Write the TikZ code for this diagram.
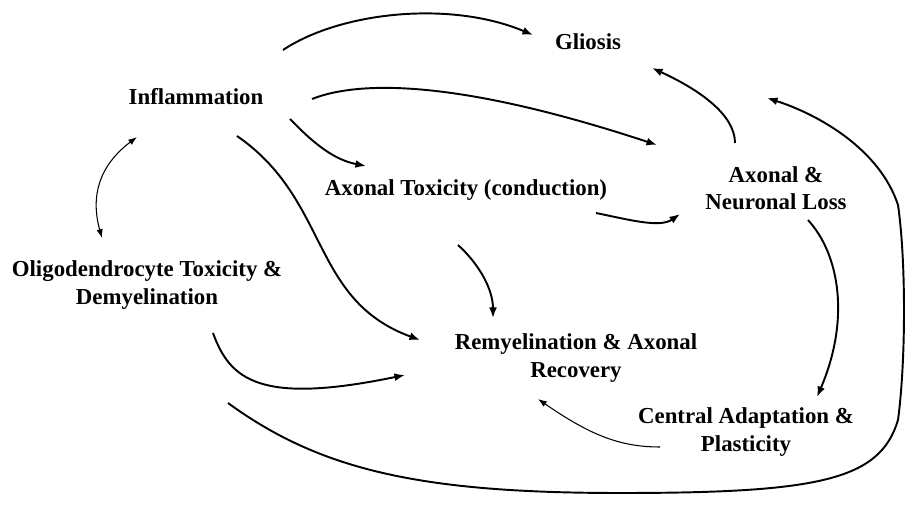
\documentclass[tikz,border=0pt]{standalone}
\usepackage{fontspec}
\setmainfont{Liberation Serif}
\usetikzlibrary{arrows.meta}

\begin{document}
\begin{tikzpicture}[
    x=0.02cm, y=-0.02cm, % pixel grid, y grows downwards
    >={Latex[length=6pt,width=4.5pt]},
    line/.style = {->, draw=black, line width=1.1pt},
    thinline/.style = {draw=black, line width=0.6pt, >={Latex[length=5pt,width=3.6pt]}}
    ]
    \tikzstyle{box_style} = [font=\fontsize{13}{15.5}\selectfont\bfseries, align=center, inner sep=0pt]
    \useasboundingbox (0,0) rectangle (906,516);

    \node[box_style] (glio) at (588,42) {Gliosis};
    \node[box_style] (infl) at (196,97) {Inflammation};
    \node[box_style] (axtox) at (466,190) {Axonal Toxicity (conduction)};
    \node[box_style] (axloss) at (776,188) {Axonal \&\\Neuronal Loss};
    \node[box_style] (oligo) at (147,285) {Oligodendrocyte Toxicity \&\\Demyelination};
    \node[box_style] (remy) at (576,358) {Remyelination \& Axonal\\Recovery};
    \node[box_style] (central) at (746,432) {Central Adaptation \&\\Plasticity};

    % from inflammation
    \draw[line] ([shift={(87,-47)}]infl.center) .. controls (340,12) and (450,0) .. ([shift={(-55,-7)}]glio.center);
    \draw[line] ([shift={(116,2)}]infl.center) .. controls (360,80) and (460,80) .. ([shift={(-119,-43)}]axloss.center);
    \draw[line] ([shift={(94,22)}]infl.center) .. controls (315,145) and (335,160) .. ([shift={(-100,-24)}]axtox.center);
    \draw[line] ([shift={(41,39)}]infl.center) .. controls (330,200) and (310,300) .. ([shift={(-156,-18)}]remy.center);
    \draw[thinline, <->] ([shift={(-59,40)}]infl.center) .. controls (100,165) and (90,195) .. ([shift={(-45,-47)}]oligo.center);

    % from axonal toxicity
    \draw[line] ([shift={(130,23)}]axtox.center) .. controls (630,220) and (660,228) .. ([shift={(-96,26)}]axloss.center);
    \draw[line] ([shift={(-8,55)}]axtox.center) .. controls (480,265) and (493,290) .. ([shift={(-83,-40)}]remy.center);

    % from axonal loss
    \draw[line] ([shift={(-41,-45)}]axloss.center) .. controls (735,115) and (700,90) .. ([shift={(64,26)}]glio.center);
    \draw[line] ([shift={(32,32)}]axloss.center) .. controls (840,255) and (850,320) .. ([shift={(71,-35)}]central.center);

    \draw[thinline, ->] ([shift={(-86,15)}]central.center) .. controls (620,447) and (590,435) .. ([shift={(-38,41)}]remy.center);

    % from demyelination
    \draw[line] ([shift={(66,48)}]oligo.center) .. controls (230,380) and (260,405) .. ([shift={(-171,17)}]remy.center);
    \draw[line] ([shift={(81,118)}]oligo.center) .. controls (320,470) and (420,493) .. (620,493)
        .. controls (820,493) and (880,480) .. (898,420)
        .. controls (906,360) and (906,260) .. (898,205)
        .. controls (880,150) and (820,115) .. ([shift={(179,56)}]glio.center);
\end{tikzpicture}
\end{document}
